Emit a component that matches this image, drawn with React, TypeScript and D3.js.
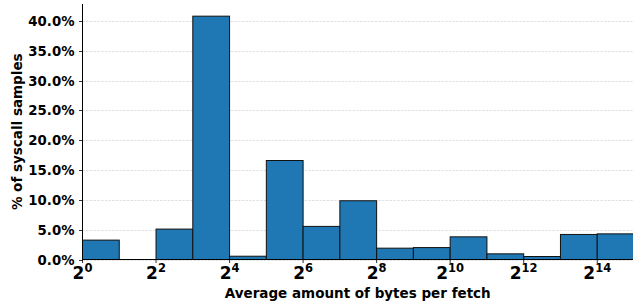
import React, { useEffect, useRef } from 'react';
import * as d3 from 'd3';

// bin exponents: each bar spans 2^e .. 2^(e+1)
const binExponents = [0, 1, 2, 3, 4, 5, 6, 7, 8, 9, 10, 11, 12, 13, 14];
// % of syscall samples for each bin
const binPercents = [3.25, 0, 5.1, 40.8, 0.55, 16.6, 5.55, 9.85, 1.9, 2.0, 3.8, 0.95, 0.5, 4.2, 4.3];
const yTicks = [0, 5, 10, 15, 20, 25, 30, 35, 40];
const xTickExponents = [0, 2, 4, 6, 8, 10, 12, 14];

const WIDTH = 633;
const HEIGHT = 302;

export default function App() {
  const ref = useRef<SVGSVGElement>(null);

  useEffect(() => {
    const svg = d3.select(ref.current);
    svg.selectAll('*').remove();

    const margin = { top: 4, right: 0, bottom: 42.5, left: 82.5 };
    const font = "'DejaVu Sans', sans-serif";

    const xScale = d3.scaleLog().base(2)
      .domain([1, Math.pow(2, 15)])
      .range([margin.left, WIDTH - margin.right + 1]);

    const yScale = d3.scaleLinear()
      .domain([0, d3.max(binPercents)! * 1.05])
      .range([HEIGHT - margin.bottom, margin.top]);

    // grid lines
    svg.append('g')
      .selectAll('line')
      .data(yTicks)
      .enter()
      .append('line')
      .attr('x1', margin.left)
      .attr('x2', WIDTH)
      .attr('y1', d => Math.round(yScale(d)) + 0.5)
      .attr('y2', d => Math.round(yScale(d)) + 0.5)
      .attr('stroke', '#d9d9d9')
      .attr('stroke-width', 0.8)
      .attr('stroke-dasharray', '2.5,1.2');

    // bars
    svg.append('g')
      .selectAll('rect')
      .data(binExponents.map((e, i) => ({ e, v: binPercents[i] })).filter(d => d.v > 0))
      .enter()
      .append('rect')
      .attr('x', d => xScale(Math.pow(2, d.e)))
      .attr('y', d => yScale(d.v))
      .attr('width', d => xScale(Math.pow(2, d.e + 1)) - xScale(Math.pow(2, d.e)))
      .attr('height', d => yScale(0) - yScale(d.v))
      .attr('fill', '#1f77b4')
      .attr('stroke', '#111')
      .attr('stroke-width', 1);

    // spines
    svg.append('line')
      .attr('x1', margin.left).attr('x2', margin.left)
      .attr('y1', margin.top).attr('y2', yScale(0))
      .attr('stroke', '#000').attr('stroke-width', 1);
    svg.append('line')
      .attr('x1', margin.left).attr('x2', WIDTH)
      .attr('y1', yScale(0)).attr('y2', yScale(0))
      .attr('stroke', '#000').attr('stroke-width', 1);

    // y ticks
    const yAxis = svg.append('g');
    yTicks.forEach(t => {
      const y = Math.round(yScale(t)) + 0.5;
      yAxis.append('line')
        .attr('x1', margin.left - 3.5).attr('x2', margin.left)
        .attr('y1', y).attr('y2', y)
        .attr('stroke', '#000').attr('stroke-width', 0.8);
      yAxis.append('text')
        .attr('x', margin.left - 8)
        .attr('y', y + 4.5)
        .attr('text-anchor', 'end')
        .attr('font-family', font)
        .attr('font-weight', 'bold')
        .attr('font-size', 13.3)
        .text(d3.format('.1f')(t) + '%');
    });

    // x ticks
    const xAxis = svg.append('g');
    xTickExponents.forEach(e => {
      const x = xScale(Math.pow(2, e));
      xAxis.append('line')
        .attr('x1', x).attr('x2', x)
        .attr('y1', yScale(0)).attr('y2', yScale(0) + 3.5)
        .attr('stroke', '#000').attr('stroke-width', 0.8);
      const label = xAxis.append('text')
        .attr('x', x)
        .attr('y', 279)
        .attr('text-anchor', 'middle')
        .attr('font-family', font)
        .attr('font-weight', 'bold')
        .attr('font-size', 17);
      label.append('tspan').text('2');
      label.append('tspan')
        .attr('dy', -7)
        .attr('font-size', 11.5)
        .text(String(e));
    });

    // axis titles
    svg.append('text')
      .attr('x', (margin.left + WIDTH) / 2)
      .attr('y', 298)
      .attr('text-anchor', 'middle')
      .attr('font-family', font)
      .attr('font-weight', 'bold')
      .attr('font-size', 13.5)
      .text('Average amount of bytes per fetch');

    svg.append('text')
      .attr('transform', `translate(22, ${(margin.top + yScale(0)) / 2}) rotate(-90)`)
      .attr('text-anchor', 'middle')
      .attr('font-family', font)
      .attr('font-weight', 'bold')
      .attr('font-size', 13.5)
      .text('% of syscall samples');
  }, []);

  return (
    <svg
      ref={ref}
      width={WIDTH}
      height={HEIGHT}
      style={{ position: 'absolute', left: 0, top: 0, background: '#fff' }}
    />
  );
}
